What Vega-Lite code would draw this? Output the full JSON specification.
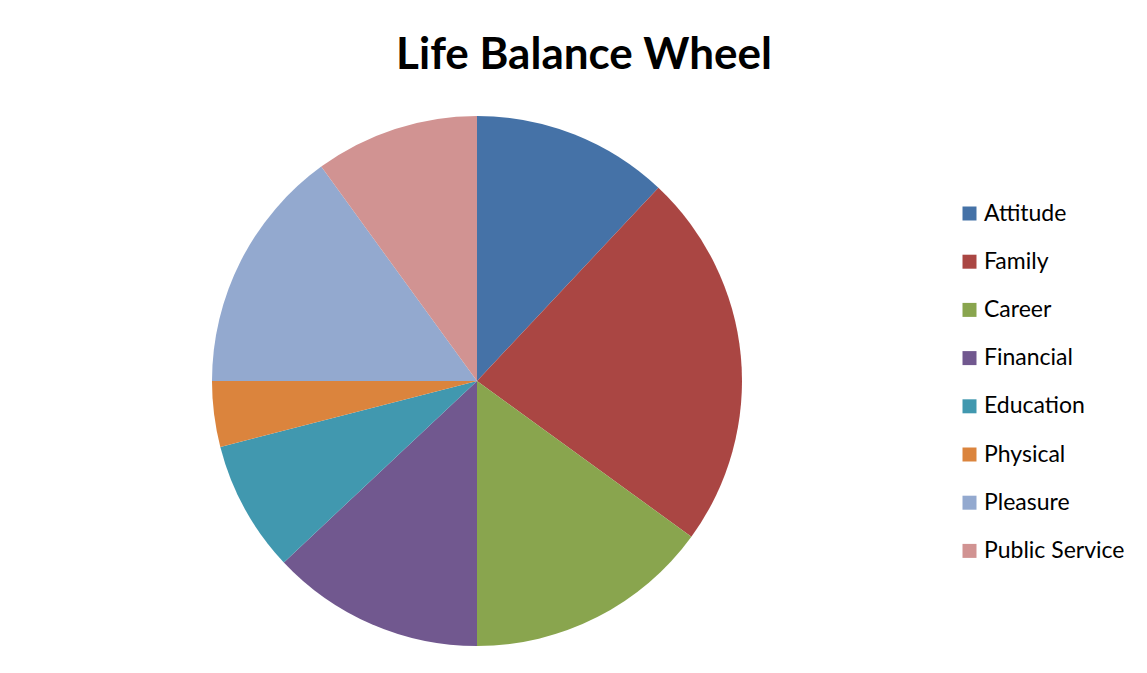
{
  "$schema": "https://vega.github.io/schema/vega-lite/v6.json",
  "autosize": {"type": "none"},
  "padding": {"left": 212, "top": 116, "right": 405, "bottom": 27},
  "width": 530,
  "height": 530,
  "background": "white",
  "title": {
    "text": "Life Balance Wheel",
    "font": "Lato",
    "fontSize": 44,
    "fontWeight": "bold",
    "color": "#000000",
    "anchor": "middle",
    "frame": "group",
    "dx": 107,
    "offset": 38
  },
  "data": {
    "values": [
      {"i": 1, "area": "Attitude", "value": 12},
      {"i": 2, "area": "Family", "value": 23},
      {"i": 3, "area": "Career", "value": 15},
      {"i": 4, "area": "Financial", "value": 13},
      {"i": 5, "area": "Education", "value": 8},
      {"i": 6, "area": "Physical", "value": 4},
      {"i": 7, "area": "Pleasure", "value": 15},
      {"i": 8, "area": "Public Service", "value": 10}
    ]
  },
  "mark": {"type": "arc", "stroke": null},
  "encoding": {
    "theta": {"field": "value", "type": "quantitative", "stack": true},
    "order": {"field": "i", "type": "quantitative", "sort": "ascending"},
    "color": {
      "field": "area",
      "type": "nominal",
      "scale": {
        "domain": ["Attitude", "Family", "Career", "Financial", "Education", "Physical", "Pleasure", "Public Service"],
        "range": ["#4572A7", "#AA4643", "#89A54E", "#71588F", "#4198AF", "#DB843D", "#93A9CF", "#D19392"]
      },
      "legend": {
        "title": null,
        "orient": "none",
        "legendX": 746,
        "legendY": 86,
        "symbolType": "square",
        "symbolSize": 196,
        "symbolStrokeWidth": 0,
        "symbolOpacity": 1,
        "labelFont": "Lato",
        "labelFontSize": 23,
        "labelColor": "#000000",
        "labelOffset": 3,
        "rowPadding": 24.2,
        "labelLimit": 300
      }
    }
  },
  "config": {"view": {"stroke": null}}
}
